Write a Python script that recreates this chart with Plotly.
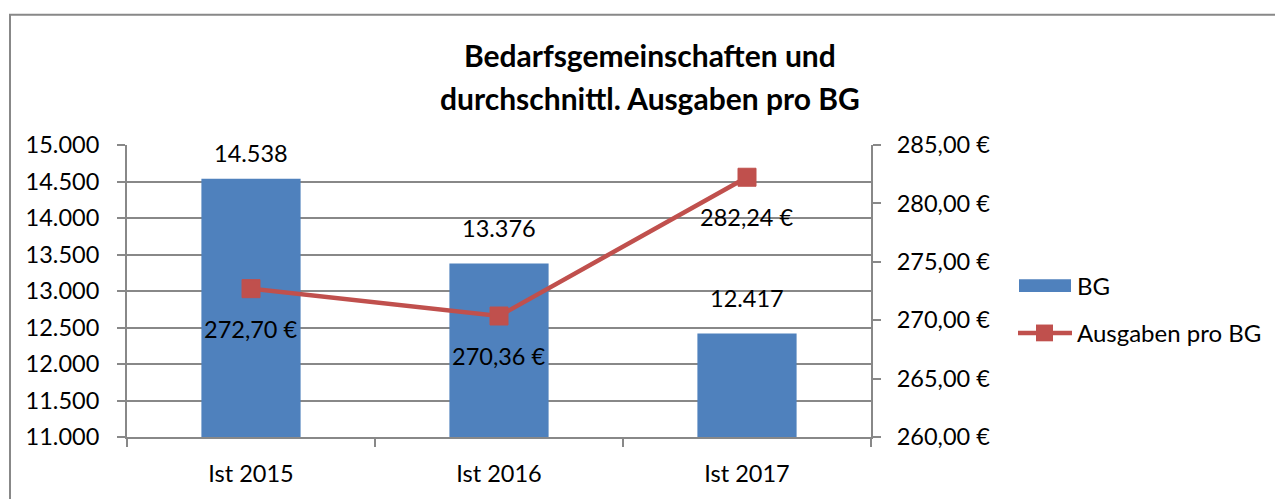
import plotly.graph_objects as go

categories = ["Ist 2015", "Ist 2016", "Ist 2017"]
bg_values = [14538, 13376, 12417]
ausgaben_values = [272.70, 270.36, 282.24]
title_lines = ["Bedarfsgemeinschaften und", "durchschnittl. Ausgaben pro BG"]
bg_name = "BG"
line_name = "Ausgaben pro BG"

W, H = 1275, 499
L, R, T, B = 127, 404, 145, 58
PW, PH = W - L - R, H - T - B
FONT = "Lato"
FS = 23.5
BLUE = "#4F81BD"
RED = "#C0504D"
GRAY = "#888888"

def px(x):
    return (x - L) / PW

def py(y):
    return (H - B - y) / PH

def de_int(v):
    return f"{v:,}".replace(",", ".")

def de_eur(v):
    return f"{v:.2f}".replace(".", ",") + " €"

fig = go.Figure()
fig.add_trace(go.Bar(x=categories, y=bg_values, name=bg_name, marker=dict(color=BLUE, line=dict(width=0)),
                     yaxis="y", showlegend=False))
fig.add_trace(go.Scatter(x=categories, y=ausgaben_values, name=line_name, mode="lines+markers",
                         line=dict(color=RED, width=4.5),
                         marker=dict(symbol="square", size=18, color=RED, line=dict(color=RED, width=1)),
                         yaxis="y2", showlegend=False))

y_min, y_max = 11000, 15000
annotations = []
for c, v in zip(categories, bg_values):
    dist = (y_max - v) / (y_max - y_min) * PH
    shift = min(36, dist - 8)
    annotations.append(dict(x=c, y=v, xref="x", yref="y", text=de_int(v), showarrow=False,
                            yshift=shift, font=dict(family=FONT, size=FS, color="black")))
for c, v in zip(categories, ausgaben_values):
    annotations.append(dict(x=c, y=v, xref="x", yref="y2", text=de_eur(v), showarrow=False,
                            yshift=-40, font=dict(family=FONT, size=FS, color="black")))

# title
TFS = 30
annotations.append(dict(x=px(650), y=py(54), xref="paper", yref="paper", text=title_lines[0], showarrow=False,
                        font=dict(family=FONT, size=TFS, color="black", weight="bold"), xanchor="center", yanchor="middle"))
annotations.append(dict(x=px(650), y=py(97), xref="paper", yref="paper", text=title_lines[1], showarrow=False,
                        font=dict(family=FONT, size=TFS, color="black", weight="bold"), xanchor="center", yanchor="middle"))

# legend texts
annotations.append(dict(x=px(1075), y=py(287), xref="paper", yref="paper", text=bg_name, showarrow=False,
                        xanchor="left", yanchor="middle", font=dict(family=FONT, size=FS + 0.5, color="black")))
annotations.append(dict(x=px(1075), y=py(335), xref="paper", yref="paper", text=line_name, showarrow=False,
                        xanchor="left", yanchor="middle", font=dict(family=FONT, size=FS + 0.5, color="black")))

shapes = [
    # outer chart border
    dict(type="rect", xref="paper", yref="paper", x0=px(10), x1=px(1300), y0=py(13), y1=py(530),
         line=dict(color=GRAY, width=2), fillcolor="rgba(0,0,0,0)", layer="below"),
    # legend keys
    dict(type="rect", xref="paper", yref="paper", x0=px(1019), x1=px(1071), y0=py(294), y1=py(281),
         line=dict(width=0), fillcolor=BLUE),
    dict(type="line", xref="paper", yref="paper", x0=px(1018), x1=px(1072), y0=py(335.5), y1=py(335.5),
         line=dict(color=RED, width=4.5)),
    dict(type="rect", xref="paper", yref="paper", x0=px(1036), x1=px(1053), y0=py(344), y1=py(327),
         line=dict(width=0), fillcolor=RED),
]

fig.update_layout(
    width=W, height=H,
    margin=dict(l=L, r=R, t=T, b=B, pad=0),
    paper_bgcolor="white", plot_bgcolor="white",
    separators=",.",
    font=dict(family=FONT, size=FS, color="black"),
    bargap=0.6,
    showlegend=False,
    xaxis=dict(type="category", showline=True, linecolor=GRAY, linewidth=2, ticks="outside",
               tickson="boundaries", ticklen=8, tickcolor=GRAY, tickwidth=2, showgrid=False,
               tickfont=dict(family=FONT, size=FS), ticklabelstandoff=15),
    yaxis=dict(range=[y_min, y_max], dtick=500, tickformat=",d", showline=True, linecolor=GRAY, linewidth=2,
               ticks="outside", ticklen=8, tickcolor=GRAY, tickwidth=2, showgrid=True, gridcolor=GRAY,
               gridwidth=2, zeroline=False, tickfont=dict(family=FONT, size=FS), ticklabelstandoff=13),
    yaxis2=dict(range=[260, 285], dtick=5, tickformat=",.2f", ticksuffix=" €", overlaying="y", side="right",
                showline=True, linecolor=GRAY, linewidth=2, ticks="outside", ticklen=8, tickcolor=GRAY,
                tickwidth=2, showgrid=False, zeroline=False, tickfont=dict(family=FONT, size=FS),
                ticklabelstandoff=11),
    annotations=annotations,
    shapes=shapes,
)

fig.write_html("out.html")
